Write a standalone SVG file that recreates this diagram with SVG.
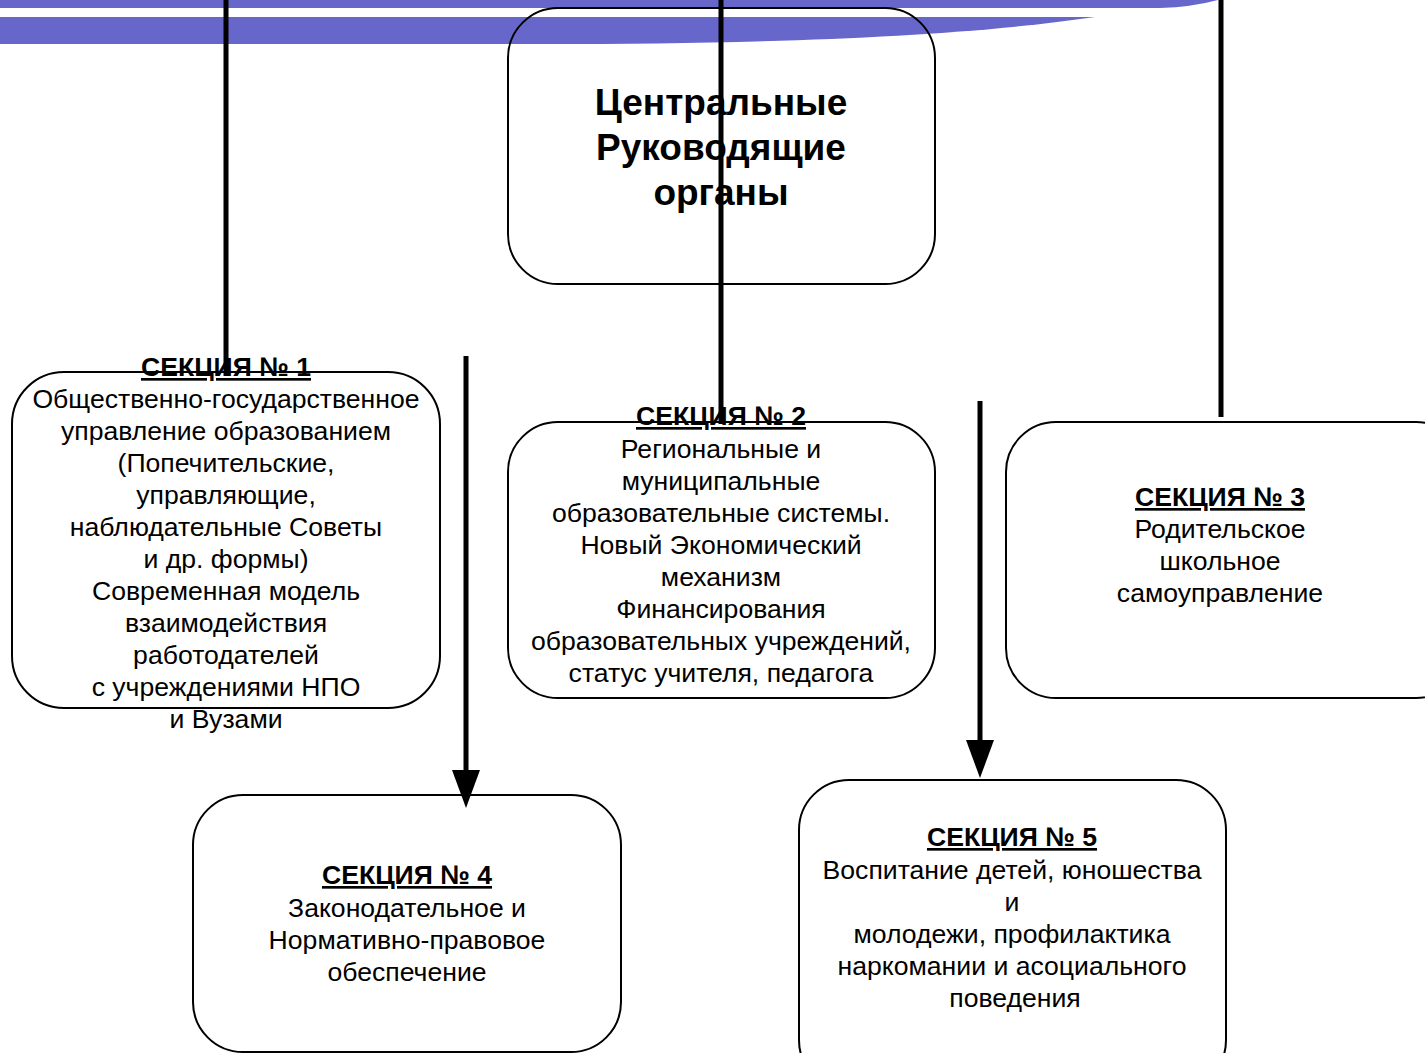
<svg xmlns="http://www.w3.org/2000/svg" width="1425" height="1053" viewBox="0 0 1425 1053">
<style>
.box{fill:none;stroke:#000;stroke-width:2}
.t{font-family:"Liberation Sans",Arial,sans-serif;font-size:26.6px;fill:#000;text-anchor:middle}
.h{font-weight:bold;text-decoration:underline}
.title{font-family:"Liberation Sans",Arial,sans-serif;font-size:37px;font-weight:bold;fill:#000;text-anchor:middle}
.ln{stroke:#000;stroke-width:5;fill:none}
.head{fill:#000}
</style>
<rect width="1425" height="1053" fill="#fff"/>
<g id="banner" fill="#6767cb">
<path d="M0,0 L1218,0 Q1192,7 1160,8 L0,8 Z"/>
<path d="M0,17 L1095,17 C960,37 760,44 545,44 L0,44 Z"/>
</g>
<g id="central">
<rect class="box" x="508" y="8" width="427" height="276" rx="50" ry="50"/>
<text class="title" x="721" y="115">Центральные</text>
<text class="title" x="721" y="160">Руководящие</text>
<text class="title" x="721" y="205">органы</text>
</g>
<g id="s1">
<rect class="box" x="12" y="372" width="428" height="336" rx="52" ry="52"/>
<text class="t" x="226"><tspan class="h" x="226" y="376">СЕКЦИЯ № 1</tspan><tspan x="226" y="408">Общественно-государственное</tspan><tspan x="226" y="440">управление образованием</tspan><tspan x="226" y="472">(Попечительские,</tspan><tspan x="226" y="504">управляющие,</tspan><tspan x="226" y="536">наблюдательные Советы</tspan><tspan x="226" y="568">и др. формы)</tspan><tspan x="226" y="600">Современная модель</tspan><tspan x="226" y="632">взаимодействия</tspan><tspan x="226" y="664">работодателей</tspan><tspan x="226" y="696">с учреждениями НПО</tspan><tspan x="226" y="728">и Вузами</tspan></text>
</g>
<g id="s2">
<rect class="box" x="508" y="422" width="427" height="276" rx="50" ry="50"/>
<text class="t" x="721"><tspan class="h" x="721" y="425">СЕКЦИЯ № 2</tspan><tspan x="721" y="458">Региональные и</tspan><tspan x="721" y="490">муниципальные</tspan><tspan x="721" y="522">образовательные системы.</tspan><tspan x="721" y="554">Новый Экономический</tspan><tspan x="721" y="586">механизм</tspan><tspan x="721" y="618">Финансирования</tspan><tspan x="721" y="650">образовательных учреждений,</tspan><tspan x="721" y="682">статус учителя, педагога</tspan></text>
</g>
<g id="s3">
<rect class="box" x="1006" y="422" width="460" height="276" rx="50" ry="50"/>
<text class="t" x="1220"><tspan class="h" x="1220" y="506">СЕКЦИЯ № 3</tspan><tspan x="1220" y="538">Родительское</tspan><tspan x="1220" y="570">школьное</tspan><tspan x="1220" y="602">самоуправление</tspan></text>
</g>
<g id="s4">
<rect class="box" x="193" y="795" width="428" height="257" rx="50" ry="50"/>
<text class="t" x="407"><tspan class="h" x="407" y="884">СЕКЦИЯ № 4</tspan><tspan x="407" y="917">Законодательное и</tspan><tspan x="407" y="949">Нормативно-правовое</tspan><tspan x="407" y="981">обеспечение</tspan></text>
</g>
<g id="s5">
<rect class="box" x="799" y="780" width="427" height="310" rx="50" ry="50"/>
<text class="t" x="1012"><tspan class="h" x="1012" y="846">СЕКЦИЯ № 5</tspan><tspan x="1012" y="879">Воспитание детей, юношества</tspan><tspan x="1012" y="911">и</tspan><tspan x="1012" y="943">молодежи, профилактика</tspan><tspan x="1012" y="975">наркомании и асоциального</tspan><tspan x="1015" y="1007">поведения</tspan></text>
</g>
<g id="connectors">
<line class="ln" x1="226" y1="0" x2="226" y2="376"/>
<line class="ln" x1="721" y1="0" x2="721" y2="424"/>
<line class="ln" x1="1221" y1="0" x2="1221" y2="417"/>
<line class="ln" x1="466" y1="356" x2="466" y2="772"/>
<polygon class="head" points="452,770 480,770 466,808"/>
<line class="ln" x1="980" y1="401" x2="980" y2="742"/>
<polygon class="head" points="966,740 994,740 980,778"/>
</g>
</svg>
